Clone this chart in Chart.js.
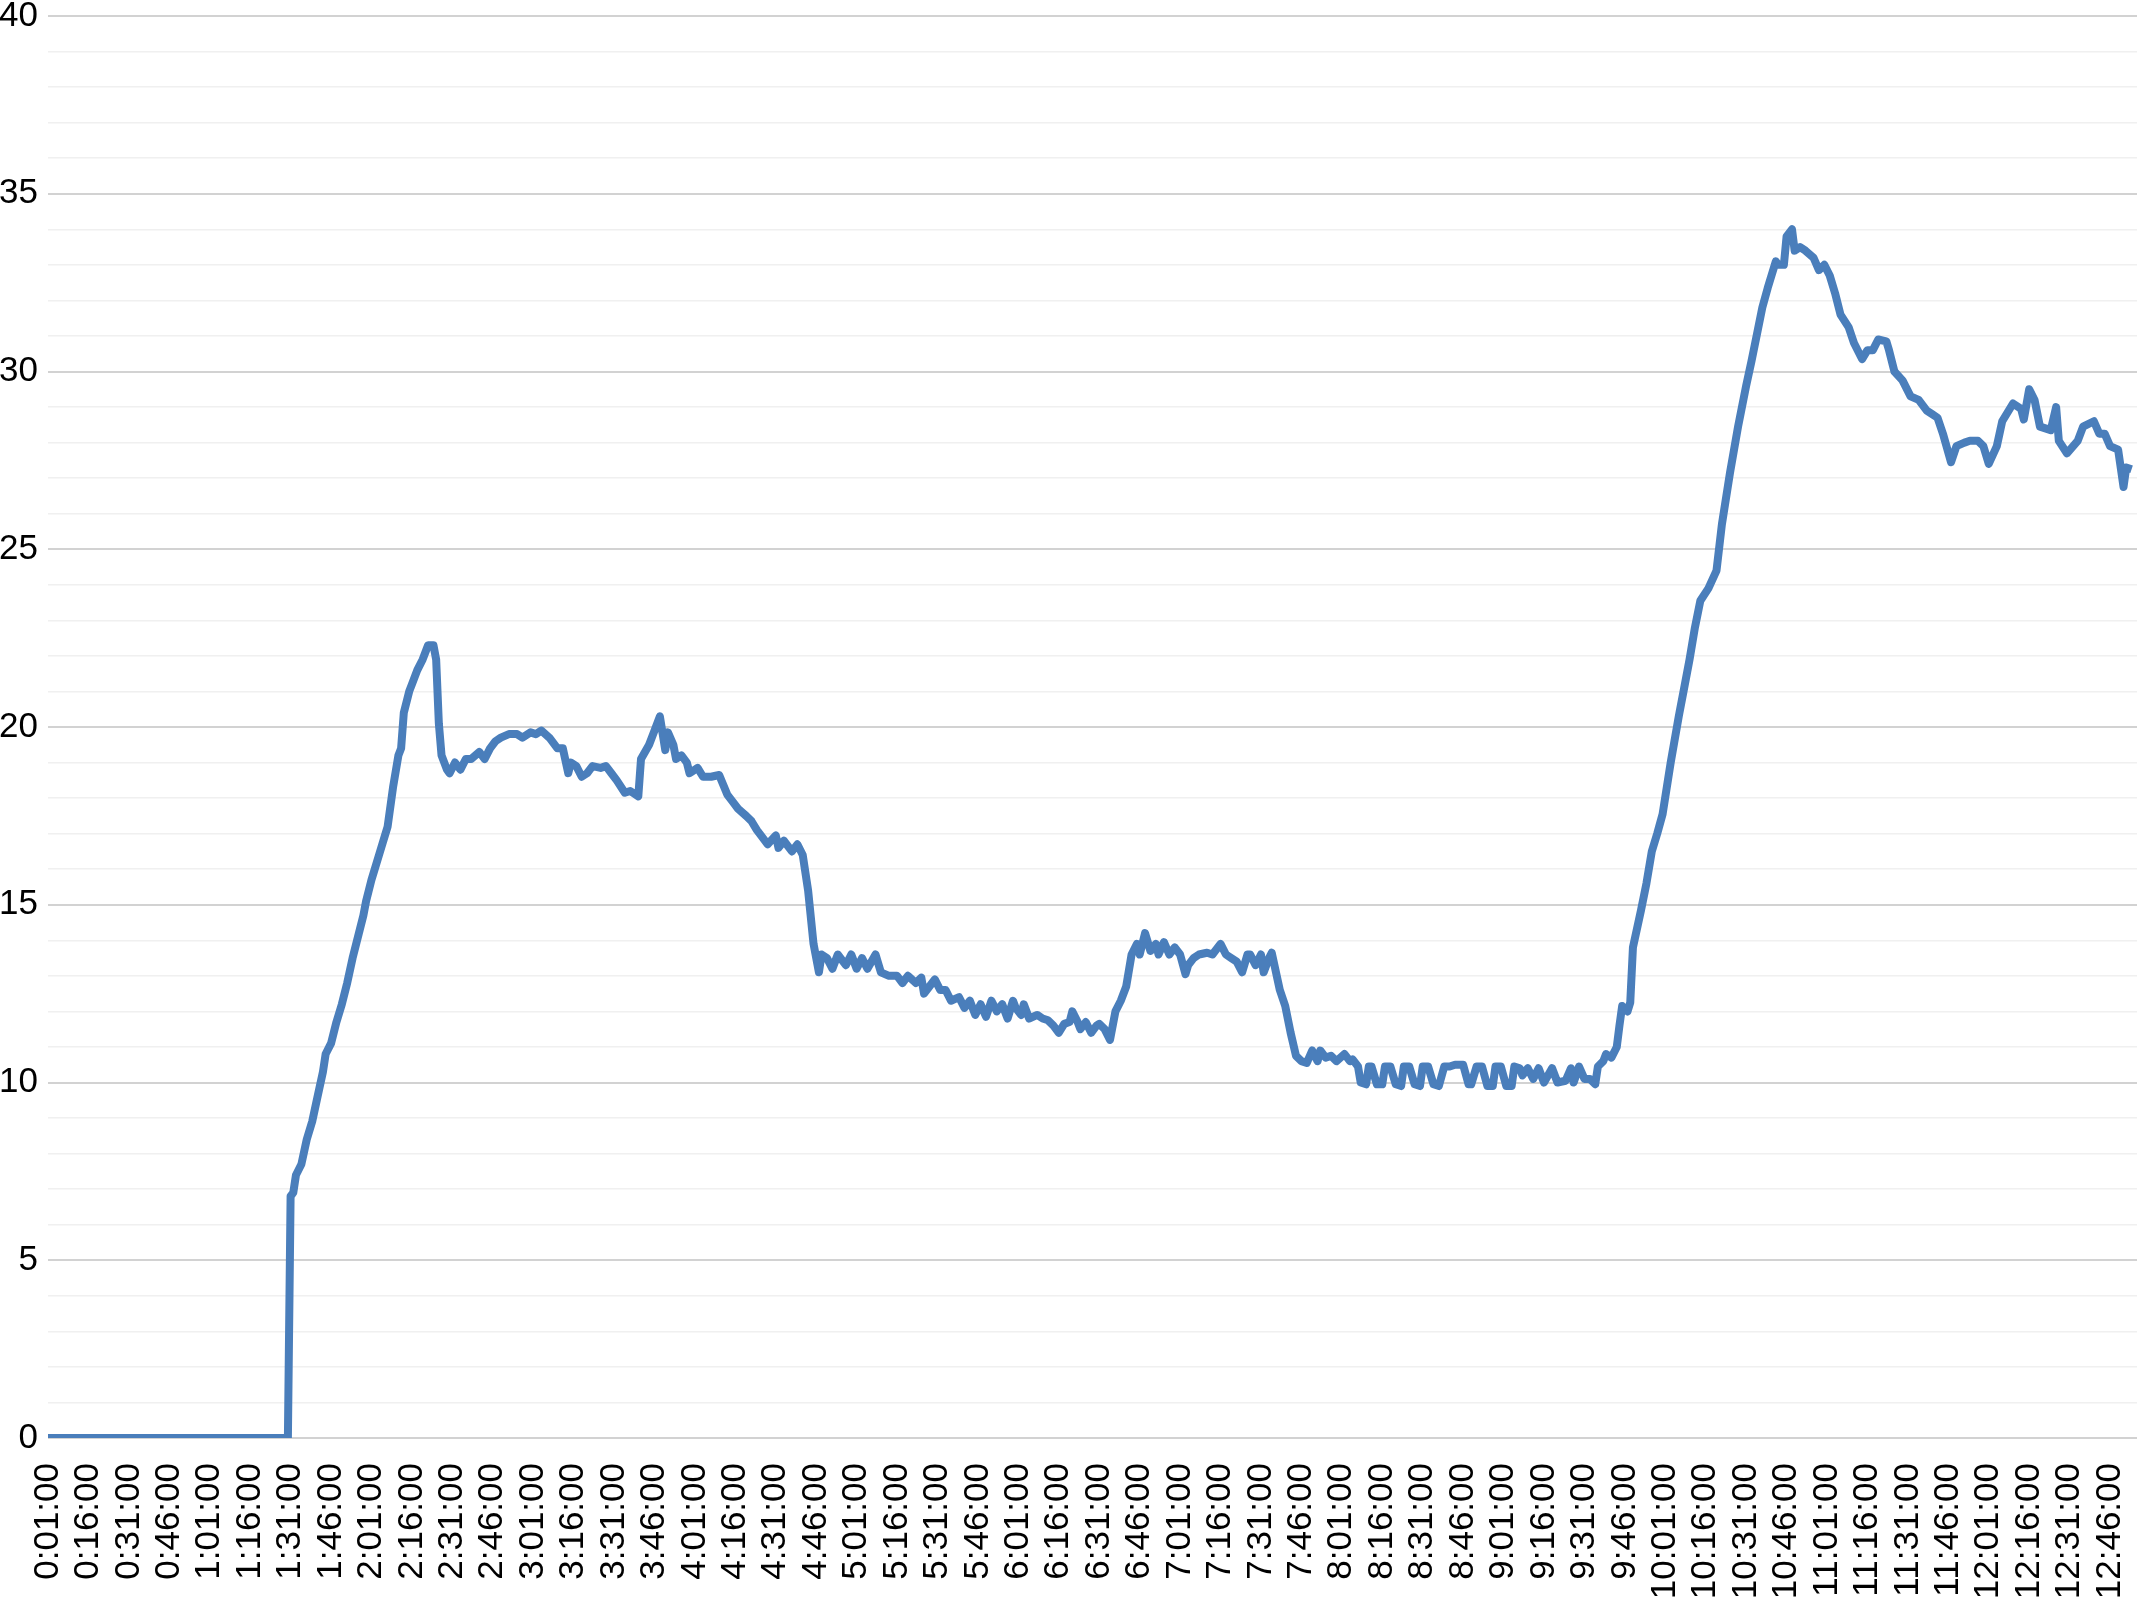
<!DOCTYPE html>
<html>
<head>
<meta charset="utf-8">
<script src="https://cdn.jsdelivr.net/npm/chart.js@4.4.1/dist/chart.umd.min.js"></script>
<style>
  html, body { margin: 0; padding: 0; background: #fff; }
</style>
</head>
<body>
<canvas id="line-chart" width="2148" height="1602"></canvas>
<script>
// minute of the run (x) and the reading at that minute (y)
const minutes = [
  1, 90, 91, 92, 93, 95, 97, 99, 101, 103,
  104, 106, 108, 110, 112, 114, 116, 118, 119, 121,
  123, 125, 127, 129, 131, 132, 133, 135, 136, 138,
  140, 142, 144, 145, 146, 147, 149, 150, 152, 154,
  156, 158, 161, 163, 165, 167, 169, 172, 175, 177,
  180, 182, 184, 187, 190, 192, 194, 195, 197, 199,
  201, 203, 206, 208, 210, 212, 215, 217, 220, 221,
  224, 226, 228, 230, 231, 233, 234, 236, 238, 239,
  242, 244, 247, 250, 253, 255, 257, 260, 262, 264,
  265, 268, 271, 272, 274, 277, 279, 281, 283, 285,
  287, 288, 290, 292, 294, 297, 299, 301, 303, 305,
  308, 310, 313, 316, 318, 320, 323, 325, 326, 328,
  330, 332, 334, 336, 339, 341, 343, 345, 347, 349,
  351, 353, 355, 357, 359, 360, 362, 363, 365, 368,
  370, 372, 374, 376, 378, 380, 381, 383, 384, 386,
  388, 390, 391, 393, 395, 397, 399, 401, 403, 405,
  406, 408, 410, 412, 413, 415, 417, 419, 421, 423,
  424, 426, 428, 431, 433, 436, 438, 440, 442, 444,
  446, 447, 449, 451, 452, 454, 455, 458, 460, 462,
  464, 466, 468, 470, 472, 473, 475, 477, 479, 482,
  484, 485, 487, 488, 490, 491, 492, 494, 496, 497,
  499, 501, 503, 504, 506, 508, 510, 511, 513, 515,
  517, 519, 521, 523, 526, 528, 529, 531, 533, 535,
  537, 538, 540, 542, 544, 545, 547, 548, 550, 552,
  554, 556, 559, 561, 564, 566, 567, 569, 571, 573,
  575, 576, 578, 579, 581, 583, 584, 585, 587, 588,
  589, 592, 594, 596, 598, 600, 603, 606, 608, 610,
  612, 614, 617, 620, 622, 625, 628, 631, 633, 635,
  637, 639, 642, 643, 645, 646, 648, 649, 651, 653,
  656, 658, 660, 662, 664, 666, 669, 671, 674, 676,
  678, 680, 683, 684, 686, 689, 692, 695, 698, 700,
  702, 704, 707, 709, 712, 714, 717, 719, 721, 724,
  726, 730, 733, 734, 736, 738, 740, 744, 746, 747,
  750, 754, 756, 760, 762, 764, 766, 769, 771, 772,
  774
]

const speed = [
  0, 0, 6.8, 6.9, 7.4, 7.7, 8.4, 8.9, 9.6, 10.3,
  10.8, 11.1, 11.7, 12.2, 12.8, 13.5, 14.1, 14.7, 15.1, 15.7,
  16.2, 16.7, 17.2, 18.3, 19.2, 19.4, 20.4, 21.0, 21.2, 21.6,
  21.9, 22.3, 22.3, 21.9, 20.1, 19.2, 18.8, 18.7, 19.0, 18.8,
  19.1, 19.1, 19.3, 19.1, 19.4, 19.6, 19.7, 19.8, 19.8, 19.7,
  19.85, 19.8, 19.9, 19.7, 19.4, 19.4, 18.7, 19.0, 18.9, 18.6,
  18.7, 18.9, 18.85, 18.9, 18.7, 18.5, 18.15, 18.2, 18.05, 19.1,
  19.5, 19.9, 20.3, 19.35, 19.85, 19.5, 19.1, 19.2, 19.0, 18.7,
  18.85, 18.6, 18.6, 18.65, 18.1, 17.9, 17.7, 17.5, 17.35, 17.1,
  17.0, 16.7, 16.95, 16.6, 16.8, 16.5, 16.7, 16.4, 15.4, 13.9,
  13.1, 13.6, 13.5, 13.2, 13.6, 13.3, 13.6, 13.2, 13.5, 13.2,
  13.6, 13.1, 13.0, 13.0, 12.8, 13.0, 12.8, 12.95, 12.5, 12.7,
  12.9, 12.6, 12.6, 12.3, 12.4, 12.1, 12.3, 11.9, 12.2, 11.85,
  12.3, 12.0, 12.2, 11.8, 12.3, 12.1, 11.9, 12.2, 11.8, 11.9,
  11.8, 11.75, 11.6, 11.4, 11.65, 11.7, 12.0, 11.7, 11.5, 11.7,
  11.4, 11.6, 11.65, 11.5, 11.2, 12.0, 12.3, 12.7, 13.6, 13.9,
  13.6, 14.2, 13.7, 13.9, 13.6, 13.95, 13.6, 13.8, 13.6, 13.05,
  13.3, 13.5, 13.6, 13.65, 13.6, 13.9, 13.6, 13.5, 13.4, 13.1,
  13.6, 13.6, 13.3, 13.6, 13.1, 13.5, 13.65, 12.6, 12.15, 11.4,
  10.75, 10.6, 10.55, 10.9, 10.6, 10.9, 10.7, 10.75, 10.6, 10.8,
  10.6, 10.65, 10.45, 10.0, 9.95, 10.45, 10.45, 9.95, 9.95, 10.45,
  10.45, 9.95, 9.9, 10.45, 10.45, 9.95, 9.9, 10.45, 10.45, 9.95,
  9.9, 10.45, 10.45, 10.5, 10.5, 9.95, 9.95, 10.45, 10.45, 9.9,
  9.9, 10.45, 10.45, 9.9, 9.9, 10.45, 10.4, 10.2, 10.4, 10.1,
  10.4, 10.0, 10.4, 10.0, 10.05, 10.4, 10.0, 10.45, 10.1, 10.1,
  9.95, 10.45, 10.6, 10.8, 10.7, 11.0, 11.6, 12.15, 12.0, 12.25,
  13.8, 14.85, 15.6, 16.5, 17.0, 17.55, 19.0, 20.3, 21.1, 21.9,
  22.8, 23.55, 23.9, 24.4, 25.7, 27.15, 28.45, 29.6, 30.3, 31.05,
  31.8, 32.35, 33.1, 33.0, 33.0, 33.8, 34.0, 33.4, 33.5, 33.4,
  33.2, 32.85, 33.0, 32.7, 32.2, 31.6, 31.25, 30.8, 30.35, 30.6,
  30.6, 30.9, 30.85, 30.6, 30.0, 29.75, 29.3, 29.2, 28.9, 28.8,
  28.7, 28.25, 27.45, 27.9, 28.0, 28.05, 28.05, 27.9, 27.4, 27.9,
  28.6, 29.1, 28.95, 28.65, 29.5, 29.2, 28.45, 28.35, 29.0, 28.05,
  27.7, 28.05, 28.45, 28.6, 28.25, 28.25, 27.9, 27.8, 26.75, 27.3,
  27.25
]

// x axis labels, one every 15 minutes
const tickLabels = [
  '0:01:00', '0:16:00', '0:31:00', '0:46:00', '1:01:00', '1:16:00', '1:31:00', '1:46:00',
  '2:01:00', '2:16:00', '2:31:00', '2:46:00', '3:01:00', '3:16:00', '3:31:00', '3:46:00',
  '4:01:00', '4:16:00', '4:31:00', '4:46:00', '5:01:00', '5:16:00', '5:31:00', '5:46:00',
  '6:01:00', '6:16:00', '6:31:00', '6:46:00', '7:01:00', '7:16:00', '7:31:00', '7:46:00',
  '8:01:00', '8:16:00', '8:31:00', '8:46:00', '9:01:00', '9:16:00', '9:31:00', '9:46:00',
  '10:01:00', '10:16:00', '10:31:00', '10:46:00', '11:01:00', '11:16:00', '11:31:00', '11:46:00',
  '12:01:00', '12:16:00', '12:31:00', '12:46:00'
]

// "h:mm:ss" -> minutes, so the labels sit on the same linear scale as the data
function toMinutes(label) {
  const parts = label.split(':')
  return parseInt(parts[0]) * 60 + parseInt(parts[1])
}

const labelFont = { family: "'Liberation Sans', Arial, sans-serif", size: 35 }

const ctx = document.getElementById('line-chart')
const lineChart = new Chart(ctx, {
  type: 'line',
  data: {
    datasets: [{
      label: 'Reading',
      data: minutes.map((m, i) => ({ x: m, y: speed[i] })),
      borderColor: '#4a7ebb',
      borderWidth: 8,
      borderJoinStyle: 'round',
      pointRadius: 0,
      tension: 0,
      clip: 0
    }]
  },
  options: {
    responsive: false,
    animation: false,
    layout: { padding: { top: 16, right: 11, left: 0, bottom: 0 } },
    plugins: {
      legend: { display: false },
      tooltip: { enabled: false }
    },
    scales: {
      x: {
        type: 'linear',
        min: 1,
        max: 776,
        grid: { display: false, drawTicks: false },
        border: { display: false },
        afterBuildTicks: axis => {
          axis.ticks = tickLabels.map(t => ({ value: toMinutes(t) }))
        },
        // fixed axis box so the plot area lines up with the original
        afterFit: axis => {
          axis.height = 164
          axis.paddingLeft = 0
          axis.paddingRight = 0
        },
        ticks: {
          autoSkip: false,
          minRotation: 90,
          maxRotation: 90,
          padding: 25,
          color: '#000',
          font: labelFont,
          callback: (value, index) => tickLabels[index]
        }
      },
      y: {
        min: 0,
        max: 40,
        border: { display: false },
        afterFit: axis => {
          axis.width = 48
          axis.paddingTop = 0
          axis.paddingBottom = 0
        },
        grid: {
          drawTicks: false,
          color: c => c.tick.value % 5 === 0 ? '#d2d2d2' : '#f0f0f0',
          lineWidth: c => c.tick.value % 5 === 0 ? 2 : 1.5
        },
        ticks: {
          stepSize: 1,
          autoSkip: false,
          padding: 10,
          color: '#000',
          font: labelFont,
          callback: value => value % 5 === 0 ? value : ''
        }
      }
    }
  }
})
</script>
</body>
</html>
